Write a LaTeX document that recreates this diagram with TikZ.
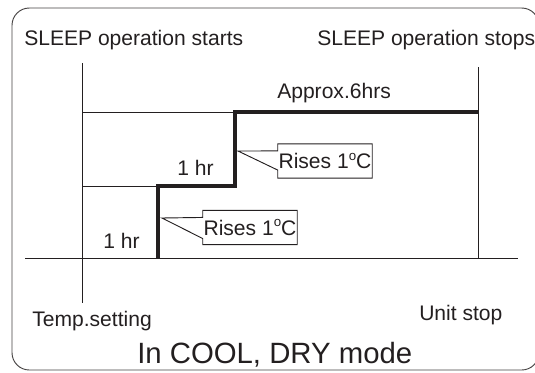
\documentclass[tikz,border=0pt]{standalone}
\usepackage{fontspec}
\setmainfont{Liberation Sans}
\usepackage{tikz}
\usetikzlibrary{calc,positioning}
\definecolor{inkgray}{RGB}{35,31,32}

\begin{document}
\begin{tikzpicture}[
  x=0.75pt, y=-0.75pt,
  thinline/.style={draw=inkgray, line width=0.7pt},
  stepline/.style={draw=inkgray, line width=2.6pt, line join=miter},
  frameline/.style={draw=inkgray!85, line width=0.7pt, rounded corners=13pt},
  lbl/.style={font=\fontsize{15.8}{18}\selectfont, text=inkgray, inner sep=0pt, anchor=base west},
  modelbl/.style={font=\fontsize{22}{26}\selectfont, text=inkgray, inner sep=0pt, anchor=base west},
  risebox/.style={font=\fontsize{15.8}{18}\selectfont, text=inkgray, inner sep=0pt,
                  minimum width=70.5pt, minimum height=25.2pt},
  callout/.style={draw=inkgray, line width=0.7pt, line join=miter}
]
\useasboundingbox (0,0) rectangle (535,372);
\draw[frameline] (12,8) rectangle (539,370);

% axes and time marks
\coordinate (base west) at (25,258);
\coordinate (base east) at (518,258);
\coordinate (start top) at (82,63);
\coordinate (start bottom) at (82,303);
\coordinate (stop top) at (478,67);
\coordinate (stop base) at (478,258);

% setting levels
\coordinate (lvl2 west) at (82,112);
\coordinate (lvl1 west) at (82,186);
\coordinate (step1 base) at (158,258);
\coordinate (step1 top) at (158,186);
\coordinate (step2 low) at (235,186);
\coordinate (step2 top) at (235,112);
\coordinate (stop lvl2) at (478,112);

\draw[thinline] (base west) -- (base east);
\draw[thinline] (start top) -- (start bottom);
\draw[thinline] (stop top) -- (stop base);
\draw[thinline] (lvl2 west) -- (step2 top);
\draw[thinline] (lvl1 west) -- (step1 top);
\draw[stepline] (step1 base) -- (step1 top) -- (step2 low) -- (step2 top) -- (stop lvl2);

% labels
\node[lbl] (start lbl) at (24,45) {SLEEP operation starts};
\node[lbl] (stop lbl) at (317,45) {SLEEP operation stops};
\node[lbl] (approx lbl) at (277,98) {Approx.6hrs};
\node[lbl] (hr2 lbl) at (177,175) {1 hr};
\node[lbl] (hr1 lbl) at (103,248) {1 hr};
\node[lbl] (temp lbl) at (32,326) {Temp.setting};
\node[lbl] (unit lbl) at (419,320) {Unit stop};
\node[modelbl] (mode lbl) at (137,363) {In COOL, DRY mode};

% rise callouts
\node[risebox] (rise2) at (325,161) {Rises 1\raisebox{0.75ex}{\fontsize{10}{10}\selectfont o}C};
\coordinate (tip2) at (238,151);
\draw[callout] (tip2) -- ($(rise2.north west)+(0,7)$) -- (rise2.north west) -- (rise2.north east)
  -- (rise2.south east) -- (rise2.south west) -- ($(rise2.south west)+(0,-8)$) -- cycle;

\node[risebox] (rise1) at (250,227.5) {Rises 1\raisebox{0.75ex}{\fontsize{10}{10}\selectfont o}C};
\coordinate (tip1) at (162,218);
\draw[callout] (tip1) -- ($(rise1.north west)+(0,7)$) -- (rise1.north west) -- (rise1.north east)
  -- (rise1.south east) -- (rise1.south west) -- ($(rise1.south west)+(0,-6)$) -- cycle;
\end{tikzpicture}
\end{document}
